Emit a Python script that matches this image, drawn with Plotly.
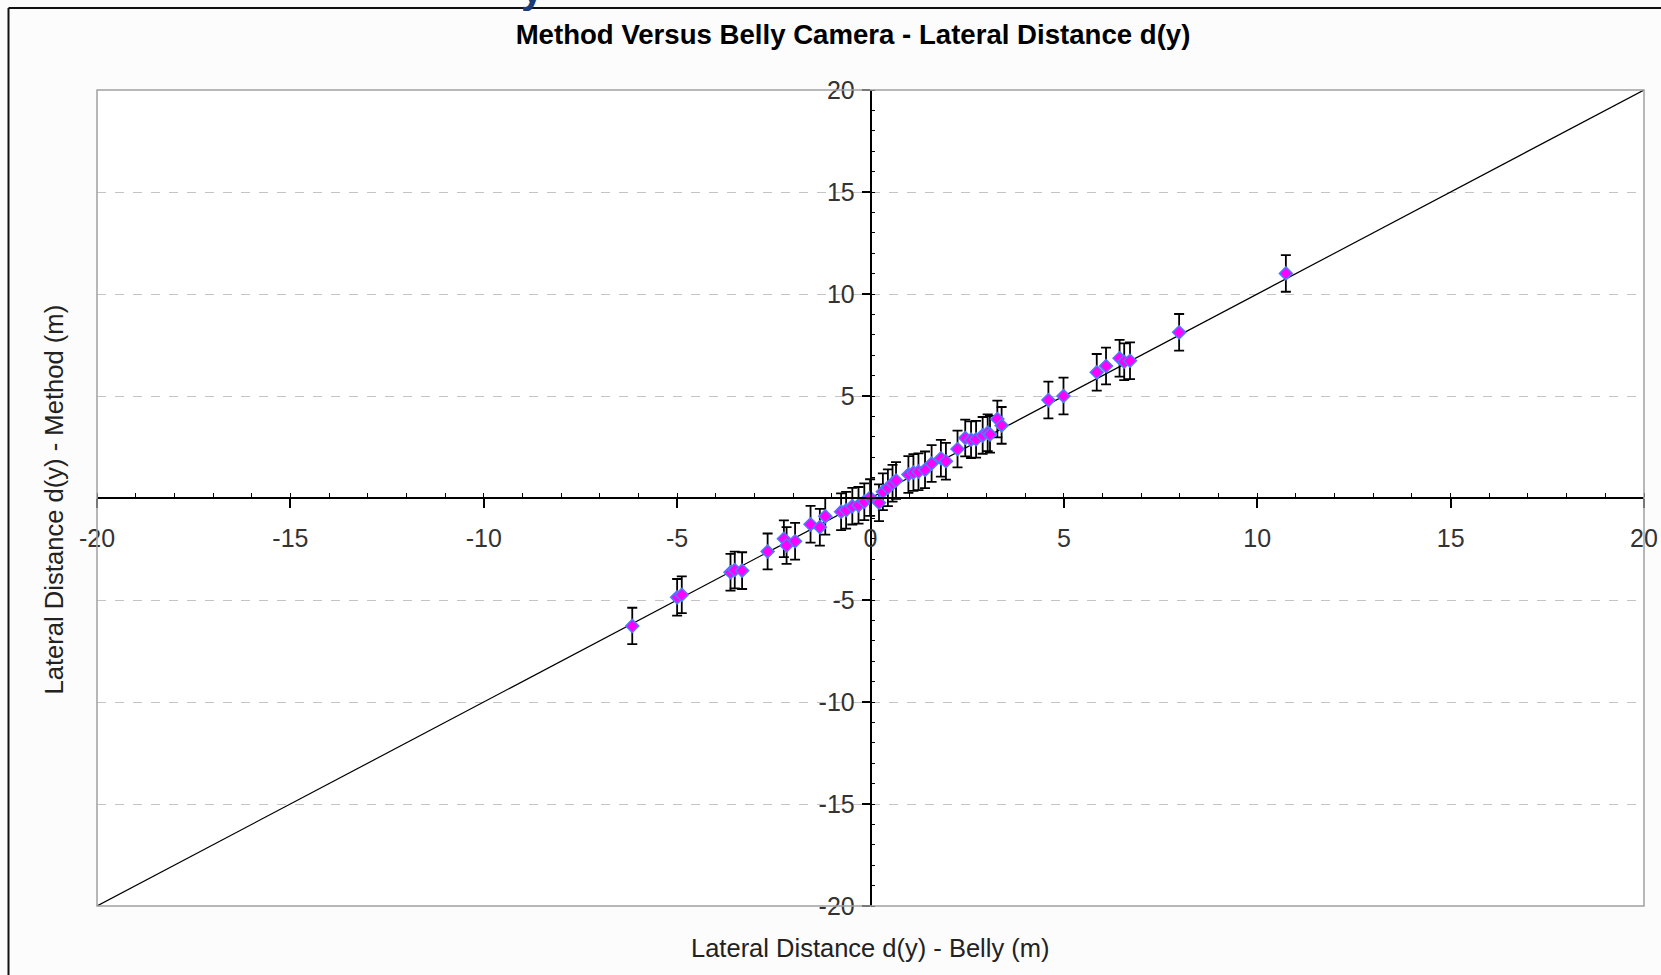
import plotly.graph_objects as go

# Data
belly_x = [-6.16, -5.00, -4.88, -3.62, -3.51, -3.32, -2.66, -2.24, -2.17, -1.95,
           -1.55, -1.31, -1.17, -0.76, -0.63, -0.47, -0.31, -0.16, -0.01, 0.22,
           0.32, 0.45, 0.57, 0.66, 0.98, 1.11, 1.24, 1.41, 1.58, 1.82,
           1.95, 2.25, 2.45, 2.60, 2.73, 2.90, 3.03, 3.09, 3.28, 3.39,
           4.60, 4.99, 5.85, 6.09, 6.44, 6.56, 6.71, 7.98, 10.74]
method_y = [-6.27, -4.87, -4.74, -3.64, -3.53, -3.56, -2.62, -2.00, -2.33, -2.12,
            -1.29, -1.43, -0.90, -0.67, -0.60, -0.40, -0.36, -0.18, 0.02, -0.23,
            0.31, 0.50, 0.72, 0.86, 1.15, 1.25, 1.29, 1.38, 1.69, 1.95,
            1.80, 2.40, 2.94, 2.86, 2.88, 3.07, 3.20, 3.12, 3.87, 3.56,
            4.80, 5.00, 6.16, 6.47, 6.85, 6.68, 6.73, 8.12, 11.01]
method_err = [0.89, 0.90, 0.90, 0.90, 0.90, 0.90, 0.88, 0.90, 0.90, 0.90,
              0.90, 0.90, 0.90, 0.90, 0.90, 0.90, 0.90, 0.90, 0.90, 0.90,
              0.90, 0.90, 0.90, 0.90, 0.90, 0.90, 0.90, 0.90, 0.90, 0.90,
              0.90, 0.90, 0.90, 0.90, 0.90, 0.90, 0.90, 0.90, 0.90, 0.90,
              0.90, 0.90, 0.90, 0.90, 0.90, 0.90, 0.90, 0.90, 0.90]
line_xy = [-20, 20]
tick_vals = [-20, -15, -10, -5, 0, 5, 10, 15, 20]
tick_text = ["-20", "-15", "-10", "-5", "0", "5", "10", "15", "20"]
ytick_vals = [-20, -15, -10, -5, 5, 10, 15, 20]
ytick_text = ["-20", "-15", "-10", "-5", "5", "10", "15", "20"]

W, H = 1661, 975
ML, MR, MT, MB = 97, 17, 90, 69
PW, PH = W - ML - MR, H - MT - MB


def px(xp):
    return (xp - ML) / PW


def py(yp):
    return (H - MB - yp) / PH


FONT = "Liberation Sans, Arial, sans-serif"

fig = go.Figure()
fig.add_trace(go.Scatter(x=line_xy, y=line_xy, mode="lines",
                         line=dict(color="black", width=1.2),
                         hoverinfo="skip", showlegend=False))
fig.add_trace(go.Scatter(
    x=belly_x, y=method_y, mode="markers",
    marker=dict(symbol="diamond", size=10, color="#ff00ff",
                line=dict(color="#4a7cff", width=1.5)),
    error_y=dict(type="data", array=method_err, visible=True,
                 color="black", thickness=1.8, width=5),
    showlegend=False))

fig.update_layout(
    width=W, height=H,
    margin=dict(l=ML, r=MR, t=MT, b=MB, autoexpand=False),
    paper_bgcolor="#fcfcfc", plot_bgcolor="#ffffff",
    font=dict(family=FONT, size=25, color="#333333"),
    title=dict(text="<b>Method Versus Belly Camera - Lateral Distance d(y)</b>",
               font=dict(family=FONT, size=27.6, color="black"),
               x=853 / W, xref="container", xanchor="center",
               y=1 - 34 / H, yref="container", yanchor="middle"),
    xaxis=dict(range=[-20, 20], anchor="free", position=0.5, automargin=False,
               showline=True, linecolor="black", linewidth=1.5,
               showgrid=False, zeroline=False,
               tickmode="array", tickvals=tick_vals, ticktext=tick_text,
               ticks="outside", ticklen=9, tickwidth=1.5, tickcolor="black",
               ticklabelstandoff=9,
               tickfont=dict(family=FONT, size=25, color="#333333"),
               minor=dict(ticks="inside", ticklen=4, tickwidth=1,
                          tickcolor="black", tickmode="linear", tick0=0,
                          dtick=1, showgrid=False)),
    yaxis=dict(range=[-20, 20], anchor="free", position=0.5, automargin=False,
               showline=True, linecolor="black", linewidth=1.5,
               showgrid=True, gridcolor="#c4c4c4", griddash="dash",
               gridwidth=1, zeroline=False,
               tickmode="array", tickvals=ytick_vals, ticktext=ytick_text,
               ticks="outside", ticklen=8, tickwidth=1.5, tickcolor="black",
               ticklabelstandoff=2,
               tickfont=dict(family=FONT, size=25, color="#333333"),
               minor=dict(ticks="inside", ticklen=4, tickwidth=1,
                          tickcolor="black", tickmode="linear", tick0=0,
                          dtick=1, showgrid=False)),
    shapes=[
        dict(type="rect", xref="paper", yref="paper", x0=0, y0=0, x1=1, y1=1,
             line=dict(color="#a0a0a0", width=1.5), layer="above"),
        dict(type="line", xref="paper", yref="paper",
             x0=px(8.5), x1=px(8.5), y0=py(8), y1=py(H + 5),
             line=dict(color="#111111", width=2)),
        dict(type="line", xref="paper", yref="paper",
             x0=px(8.5), x1=px(W + 5), y0=py(8), y1=py(8),
             line=dict(color="#111111", width=2)),
    ],
    annotations=[
        dict(text="Lateral Distance d(y) - Belly (m)", xref="paper", yref="paper",
             x=0.5, y=py(948), xanchor="center", yanchor="middle",
             showarrow=False, font=dict(family=FONT, size=25.5, color="#222222")),
        dict(text="Lateral Distance d(y) - Method (m)", xref="paper", yref="paper",
             x=px(53), y=py(499.5), xanchor="center", yanchor="middle",
             textangle=-90, showarrow=False,
             font=dict(family=FONT, size=25.6, color="#222222")),
        dict(text="<b>y</b>", xref="paper", yref="paper",
             x=px(532), y=py(13), xanchor="center", yanchor="bottom",
             showarrow=False,
             font=dict(family=FONT, size=40, color="#1c3c78")),
    ],
)

fig.write_html("out.html")
